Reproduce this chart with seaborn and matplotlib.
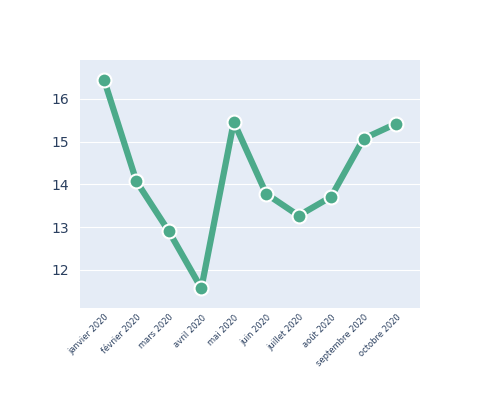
import matplotlib
matplotlib.use("Agg")
import matplotlib.pyplot as plt
import pandas as pd
import seaborn as sns

months = ["janvier 2020", "février 2020", "mars 2020", "avril 2020", "mai 2020",
          "juin 2020", "juillet 2020", "août 2020", "septembre 2020", "octobre 2020"]
values = [16.45, 14.07, 12.9, 11.57, 15.46, 13.78, 13.27, 13.71, 15.07, 15.42]

df = pd.DataFrame({"month": months, "value": values})

sns.set_style("darkgrid", {"axes.facecolor": "#E5ECF6", "grid.color": "white"})
plt.rcParams["font.family"] = ["DejaVu Sans"]

fig = plt.figure(figsize=(5, 4), dpi=100)
ax = fig.add_axes([0.16, 0.23, 0.68, 0.62])
sns.lineplot(data=df, x="month", y="value", ax=ax, color="#4CAA8A", linewidth=4.5,
             marker="o", markersize=10, markeredgecolor="white", markeredgewidth=1.5,
             sort=False)

ax.set_xlim(-0.74, len(months) - 1 + 0.74)
ax.set_ylim(11.11, 16.91)
ax.set_yticks([12, 13, 14, 15, 16])
ax.set_xlabel("")
ax.set_ylabel("")
ax.grid(axis="x", visible=False)
ax.tick_params(axis="y", labelsize=10, colors="#2A3F5F", length=0, pad=8)
ax.tick_params(axis="x", labelsize=6, colors="#2A3F5F", length=0)
for lab in ax.get_xticklabels():
    lab.set_rotation(45)
    lab.set_ha("right")
    lab.set_rotation_mode("anchor")
for s in ax.spines.values():
    s.set_visible(False)

fig.savefig("out.png", dpi=100)
